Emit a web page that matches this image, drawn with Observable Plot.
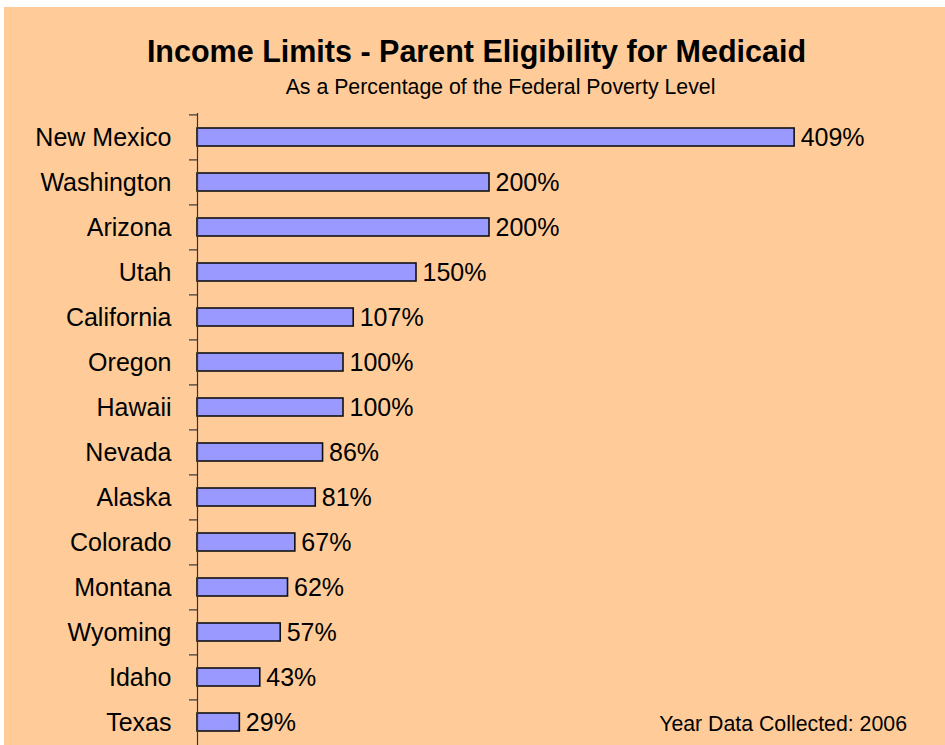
<!DOCTYPE html>
<html>
<head>
<meta charset="utf-8">
<script src="https://cdn.jsdelivr.net/npm/d3@7"></script>
<script src="https://cdn.jsdelivr.net/npm/@observablehq/plot@0.6"></script>
<style>
  html, body { margin: 0; padding: 0; background: #ffffff; overflow: hidden; }
  #panel {
    position: absolute; left: 4px; top: 7px; width: 941px; height: 738px;
    background: #FFCC99; overflow: hidden;
    font-family: "Liberation Sans", Arial, sans-serif; color: #000;
  }
  .t { position: absolute; white-space: nowrap; line-height: 1; }
  #title { font-weight: bold; font-size: 30.5px; left: 0; width: 945px; text-align: center; top: 29px; }
  #subtitle { font-size: 21.3px; left: 0; width: 993px; text-align: center; top: 70px; }
  #caption { font-size: 21.3px; right: 38px; top: 707px; }
  #chart { position: absolute; left: 0; top: 93px; }
</style>
</head>
<body>
<div id="panel">
  <div id="title" class="t">Income Limits - Parent Eligibility for Medicaid</div>
  <div id="subtitle" class="t">As a Percentage of the Federal Poverty Level</div>
  <div id="chart"></div>
  <div id="caption" class="t">Year Data Collected: 2006</div>
</div>
<script>
const states = ["New Mexico", "Washington", "Arizona", "Utah", "California", "Oregon", "Hawaii",
  "Nevada", "Alaska", "Colorado", "Montana", "Wyoming", "Idaho", "Texas"];
const incomeLimits = [409, 200, 200, 150, 107, 100, 100, 86, 81, 67, 62, 57, 43, 29];

const data = states.map((s, i) => ({state: s, value: incomeLimits[i]}));

const W = 941, H = 646, mTop = 13, mBottom = 0;
const step = (H - mTop - mBottom) / states.length;

const plot = Plot.plot({
  width: W,
  height: H,
  marginLeft: 193,
  marginRight: 18,
  marginTop: mTop,
  marginBottom: mBottom,
  style: {background: "transparent", fontFamily: "Liberation Sans, Arial, sans-serif", color: "#000", overflow: "visible"},
  x: {domain: [0, 500], axis: null},
  y: {domain: states, paddingInner: 0.6, paddingOuter: 0.3, label: null},
  marks: [
    Plot.barX(data, {x: "value", y: "state", fill: "#9999FF", stroke: "#111", strokeWidth: 1.6}),
    Plot.ruleX([0], {stroke: "#333", strokeWidth: 1.2}),
    Plot.axisY({tickSize: 8, text: null, dy: -step / 2, stroke: "#333", strokeWidth: 1.2, label: null}),
    Plot.axisY({tickSize: 0, tickPadding: 26, fontSize: 25, fill: "#000", label: null}),
    Plot.text(data, {x: "value", y: "state", text: d => d.value + "%", textAnchor: "start", dx: 6, fontSize: 25, fill: "#000"})
  ]
});
document.getElementById("chart").appendChild(plot);
</script>
</body>
</html>
